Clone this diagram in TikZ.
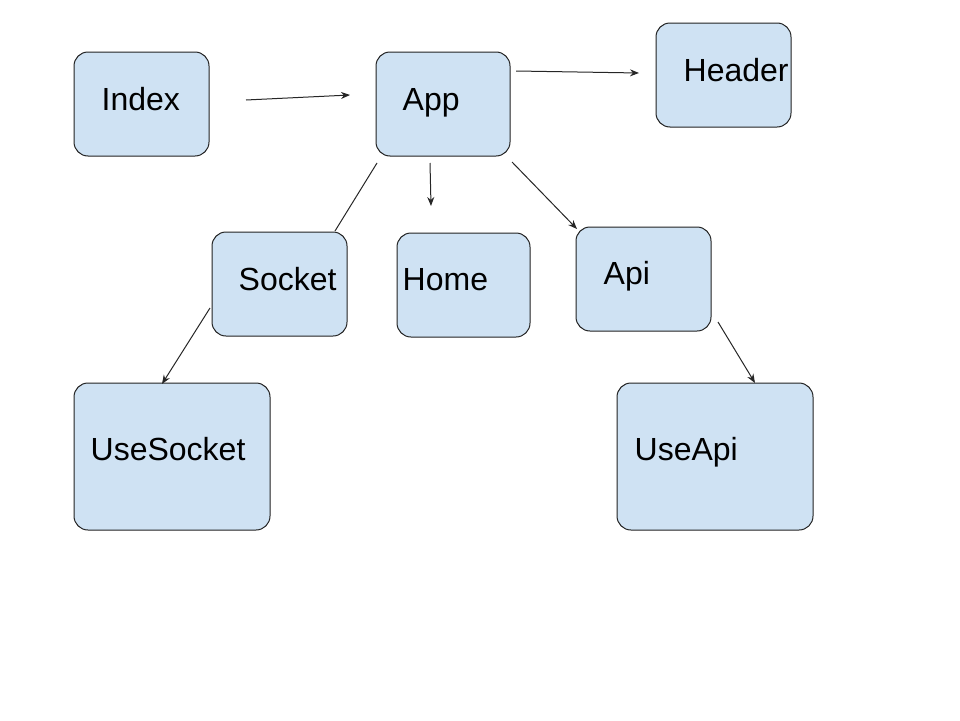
\documentclass[tikz,border=0pt]{standalone}
\usepackage{fontspec}
\setmainfont{Liberation Sans}
\usetikzlibrary{arrows.meta,calc}
\definecolor{boxfill}{HTML}{CFE2F3}
\definecolor{boxline}{HTML}{222222}
\tikzset{
  box/.style={draw=boxline, fill=boxfill, line width=1pt, rounded corners=14pt, inner sep=0pt},
  lbl/.style={anchor=base west, inner sep=0pt, font=\fontsize{32}{38}\selectfont},
  conn/.style={draw=black!85, line width=1pt},
  arr/.style={conn, -{Stealth[length=9pt,width=7pt]}}
}
\begin{document}
\begin{tikzpicture}[x=1pt,y=-1pt]
\useasboundingbox (0,0) rectangle (960,720);
% boxes
\node[box, minimum width=135pt, minimum height=104pt] (index) at (141.5,104) {};
\node[box, minimum width=134pt, minimum height=104pt] (app) at (443,104) {};
\node[box, minimum width=135pt, minimum height=104pt] (header) at (723.5,75) {};
\node[box, minimum width=135pt, minimum height=104pt] (socket) at (279.5,284) {};
\node[box, minimum width=133pt, minimum height=104pt] (home) at (463.5,285) {};
\node[box, minimum width=135pt, minimum height=104pt] (api) at (643.5,279) {};
\node[box, minimum width=196pt, minimum height=147pt] (usesocket) at (172,456.5) {};
\node[box, minimum width=196pt, minimum height=147pt] (useapi) at (715,456.5) {};
% labels
\node[lbl] (tindex) at (101.5,110.5) {Index};
\node[lbl] (tapp) at (402.5,110.5) {App};
\node[lbl] (theader) at (683.5,81.5) {Header};
\node[lbl] (tsocket) at (238.5,290.5) {Socket};
\node[lbl] (thome) at (402.5,290.5) {Home};
\node[lbl] (tapi) at (603.5,284.5) {Api};
\node[lbl] (tusesocket) at (90.5,460.5) {UseSocket};
\node[lbl] (tuseapi) at (634.5,460.5) {UseApi};
% connector end points
\coordinate (c1a) at (246,100); \coordinate (c1b) at (350,95);
\coordinate (c2a) at (516,71);  \coordinate (c2b) at (639,73);
\coordinate (c3a) at (430,163); \coordinate (c3b) at (431,206);
\coordinate (c4a) at (512,162); \coordinate (c4b) at (577,229);
\coordinate (c5a) at (377,163); \coordinate (c5b) at (335,231);
\coordinate (c6a) at (210,308); \coordinate (c6b) at (162,384);
\coordinate (c7a) at (718,322); \coordinate (c7b) at (755,383);
% connectors
\draw[arr] (c1a) -- (c1b);
\draw[arr] (c2a) -- (c2b);
\draw[arr] (c3a) -- (c3b);
\draw[arr] (c4a) -- (c4b);
\draw[conn] (c5a) -- (c5b);
\draw[arr] (c6a) -- (c6b);
\draw[arr] (c7a) -- (c7b);
\end{tikzpicture}
\end{document}
